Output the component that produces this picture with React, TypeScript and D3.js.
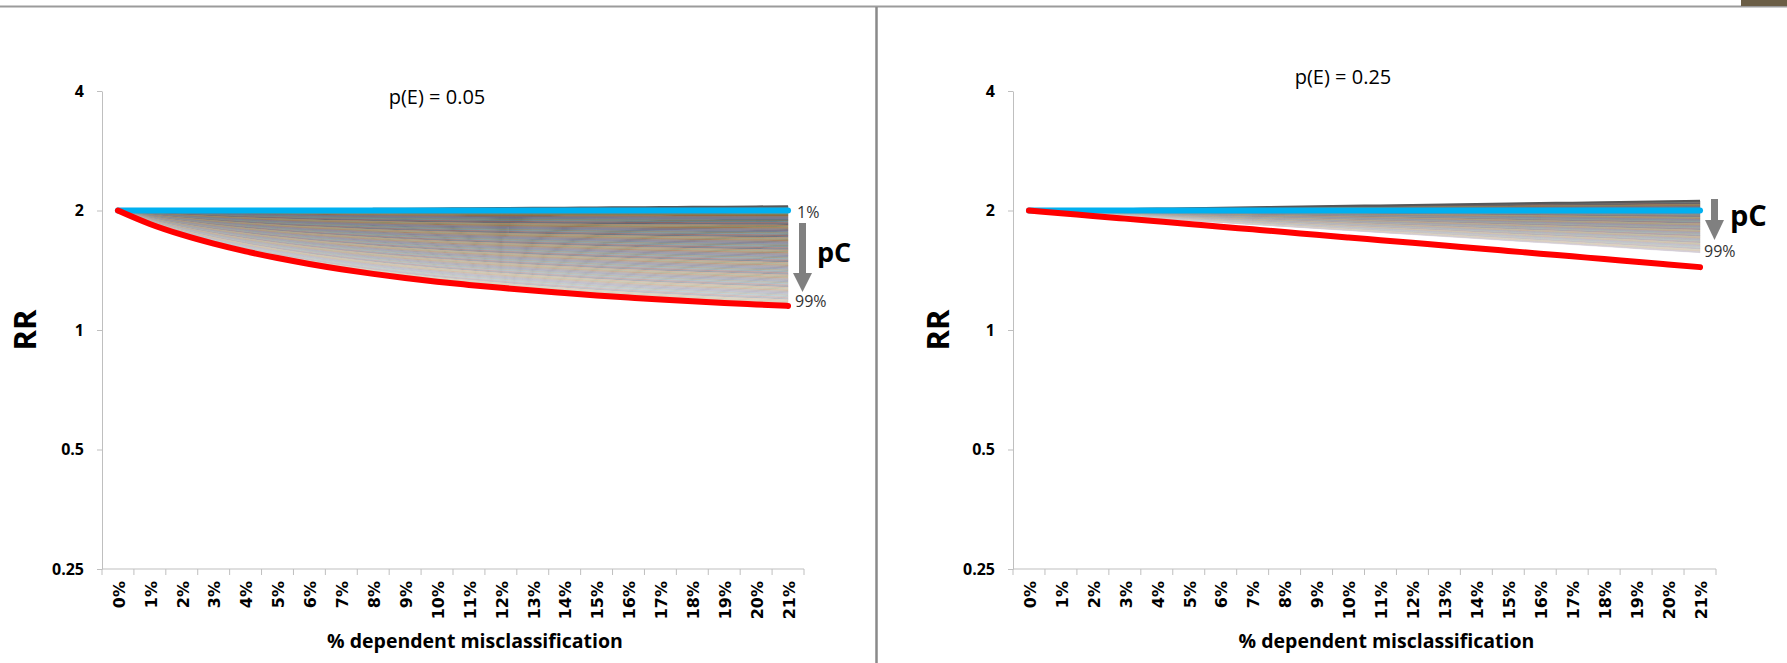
import React, { useEffect, useRef } from 'react';
import * as d3 from 'd3';

// categories on the x axis (% dependent misclassification)
const categories = ['0%', '1%', '2%', '3%', '4%', '5%', '6%', '7%', '8%', '9%', '10%',
  '11%', '12%', '13%', '14%', '15%', '16%', '17%', '18%', '19%', '20%', '21%'];

const yTicks = [0.25, 0.5, 1, 2, 4];

// p(E) = 0.05
const leftBlue = [2, 2, 2, 2, 2, 2, 2, 2, 2, 2, 2, 2, 2, 2, 2, 2, 2, 2, 2, 2, 2, 2];
const leftRed = [2.0, 1.85, 1.738, 1.65, 1.578, 1.518, 1.467, 1.423, 1.385, 1.352, 1.323,
  1.299, 1.277, 1.257, 1.239, 1.222, 1.207, 1.193, 1.181, 1.17, 1.16, 1.15];
const leftFanTop = [2.0, 2.002, 2.005, 2.007, 2.01, 2.012, 2.014, 2.017, 2.019, 2.021, 2.024,
  2.026, 2.029, 2.031, 2.033, 2.036, 2.038, 2.04, 2.043, 2.045, 2.048, 2.05];
const leftFanBottom = leftRed;

// p(E) = 0.25
const rightBlue = [2, 2, 2, 2, 2, 2, 2, 2, 2, 2, 2, 2, 2, 2, 2, 2, 2, 2, 2, 2, 2, 2];
const rightRed = [2.0, 1.969, 1.938, 1.908, 1.879, 1.85, 1.821, 1.793, 1.765, 1.737, 1.71,
  1.684, 1.658, 1.632, 1.607, 1.582, 1.557, 1.533, 1.509, 1.486, 1.463, 1.44];
const rightFanTop = [2.0, 2.005, 2.011, 2.016, 2.022, 2.027, 2.033, 2.038, 2.044, 2.049, 2.055,
  2.06, 2.066, 2.071, 2.077, 2.082, 2.088, 2.093, 2.099, 2.104, 2.11, 2.115];
const rightFanBottom = [2.0, 1.977, 1.954, 1.931, 1.909, 1.887, 1.865, 1.843, 1.822, 1.801, 1.78,
  1.759, 1.739, 1.719, 1.699, 1.679, 1.66, 1.641, 1.622, 1.603, 1.584, 1.566];

// stripe tints used to shade the pC fan
const stripeTints = ['#4f81bd', '#c0504d', '#9bbb59', '#8064a2', '#4bacc6', '#f79646', '#7f7f7f', '#948a54', '#1f497d', '#e46c0a'];

const W = 1787;
const H = 663;
const Y_TOP = 91;
const Y_BOT = 569;

const boldFont = "'Open Sans', 'DejaVu Sans', sans-serif";

const Panel = ({ x0, x1, title, titleX, titleY, rrX, fanTop, fanBottom, blue, red, showOnePct, arrow }) => {
  const ref = useRef(null);

  useEffect(() => {
    const g = d3.select(ref.current);
    g.selectAll('*').remove();

    const x = d3.scaleBand().domain(categories).range([x0, x1]).padding(0);
    const cx = (c) => x(c) + x.bandwidth() / 2;
    const y = d3.scaleLog().base(2).domain([0.25, 4]).range([Y_BOT, Y_TOP]);

    // y axis
    const yAxis = d3.axisLeft(y)
      .tickValues(yTicks)
      .tickSize(5)
      .tickSizeOuter(0)
      .tickPadding(13)
      .tickFormat((d) => String(d));
    const ya = g.append('g').attr('transform', `translate(${x0},0)`).call(yAxis);
    ya.select('.domain').attr('stroke', '#bfbfbf');
    ya.selectAll('.tick line').attr('stroke', '#bfbfbf');
    ya.selectAll('.tick text')
      .attr('font-family', boldFont)
      .attr('font-weight', 700)
      .attr('font-size', 16)
      .attr('fill', '#000');

    // x axis: line, ticks between categories, rotated labels
    g.append('line')
      .attr('x1', x0).attr('x2', x1)
      .attr('y1', Y_BOT).attr('y2', Y_BOT)
      .attr('stroke', '#bfbfbf');
    const bounds = categories.map((c) => x(c)).concat([x1]);
    g.append('g').selectAll('line')
      .data(bounds)
      .join('line')
      .attr('x1', (d) => d).attr('x2', (d) => d)
      .attr('y1', Y_BOT).attr('y2', Y_BOT + 6)
      .attr('stroke', '#bfbfbf');
    g.append('g').selectAll('text')
      .data(categories)
      .join('text')
      .attr('transform', (d) => `translate(${cx(d) + 1},${Y_BOT + 12}) rotate(-90)`)
      .attr('text-anchor', 'end')
      .attr('dy', '0.36em')
      .attr('font-family', "'DejaVu Sans', sans-serif")
      .attr('font-weight', 700)
      .attr('font-size', 16)
      .attr('fill', '#000')
      .text((d) => d);

    // fan of pC lines: shaded in thin bands between the fan edges
    const nBands = 80;
    const ramp = d3.interpolateRgb('#524d49', '#e4e2e2');
    for (let k = 0; k < nBands; k++) {
      const t0 = k / nBands;
      const t1 = (k + 1) / nBands;
      const area = d3.area()
        .x((d, i) => cx(categories[i]))
        .y0((d, i) => y(fanTop[i]) * (1 - t0) + y(fanBottom[i]) * t0)
        .y1((d, i) => y(fanTop[i]) * (1 - t1) + y(fanBottom[i]) * t1)
        .curve(d3.curveMonotoneX);
      const base = ramp(Math.pow(t0, 0.75));
      const col = d3.interpolateRgb(base, stripeTints[(k * 7) % stripeTints.length])(0.4 * (1 - t0 * 0.55));
      g.append('path')
        .datum(fanTop)
        .attr('d', area)
        .attr('fill', col)
        .attr('stroke', col)
        .attr('stroke-width', 0.4);
    }

    const line = d3.line()
      .x((d, i) => cx(categories[i]))
      .y((d) => y(d))
      .curve(d3.curveMonotoneX);

    g.append('path')
      .datum(fanTop)
      .attr('d', line)
      .attr('fill', 'none')
      .attr('stroke', '#575757')
      .attr('stroke-width', 2);

    g.append('path')
      .datum(blue)
      .attr('d', line)
      .attr('fill', 'none')
      .attr('stroke', '#00b0f0')
      .attr('stroke-width', 6)
      .attr('stroke-linecap', 'round');

    g.append('path')
      .datum(red)
      .attr('d', line)
      .attr('fill', 'none')
      .attr('stroke', '#ff0000')
      .attr('stroke-width', 6)
      .attr('stroke-linecap', 'round')
      .attr('stroke-linejoin', 'round');

    // pC arrow and labels
    const ax = arrow.x;
    g.append('rect')
      .attr('x', ax - 3.5).attr('y', arrow.top)
      .attr('width', 7).attr('height', arrow.headTop - arrow.top)
      .attr('fill', '#808080');
    g.append('path')
      .attr('d', `M${ax - 9.5},${arrow.headTop} L${ax + 9.5},${arrow.headTop} L${ax},${arrow.headBot} Z`)
      .attr('fill', '#808080');
    g.append('text')
      .attr('x', arrow.pcX).attr('y', arrow.pcY)
      .attr('font-family', boldFont)
      .attr('font-weight', 700)
      .attr('font-size', arrow.pcSize)
      .attr('fill', '#000')
      .text('pC');
    g.append('text')
      .attr('x', arrow.lowX).attr('y', arrow.lowY)
      .attr('font-family', boldFont)
      .attr('font-size', 16)
      .attr('fill', '#333')
      .text('99%');
    if (showOnePct) {
      g.append('text')
        .attr('x', 797).attr('y', 218)
        .attr('font-family', boldFont)
        .attr('font-size', 16)
        .attr('fill', '#333')
        .text('1%');
    }

    // titles
    g.append('text')
      .attr('x', titleX).attr('y', titleY)
      .attr('text-anchor', 'middle')
      .attr('font-family', boldFont)
      .attr('font-size', 20)
      .attr('fill', '#000')
      .text(title);
    g.append('text')
      .attr('transform', `translate(${rrX},330) rotate(-90)`)
      .attr('text-anchor', 'middle')
      .attr('dy', '0.36em')
      .attr('font-family', boldFont)
      .attr('font-weight', 700)
      .attr('font-size', 31)
      .attr('fill', '#000')
      .text('RR');
    g.append('text')
      .attr('x', (x0 + x1) / 2 + 22).attr('y', 648)
      .attr('text-anchor', 'middle')
      .attr('font-family', boldFont)
      .attr('font-weight', 700)
      .attr('font-size', 19.5)
      .attr('fill', '#000')
      .text('% dependent misclassification');
  }, []);

  return <g ref={ref} />;
};

export default function App() {
  return (
    <svg width={W} height={H} style={{ position: 'absolute', left: 0, top: 0, background: '#fff' }}>
      <rect x={0} y={0} width={W} height={H} fill="#fff" />
      <line x1={0} x2={W} y1={6.5} y2={6.5} stroke="#9b9b9b" strokeWidth={2} />
      <rect x={1741} y={0} width={46} height={6} fill="#6b5e46" />
      <line x1={876.5} x2={876.5} y1={7} y2={H} stroke="#8a8a8a" strokeWidth={2.5} />
      <Panel
        x0={102} x1={804}
        title="p(E) = 0.05" titleX={437} titleY={104} rrX={25}
        fanTop={leftFanTop} fanBottom={leftFanBottom} blue={leftBlue} red={leftRed}
        showOnePct={true}
        arrow={{ x: 802.5, top: 223, headTop: 273, headBot: 292, pcX: 817, pcY: 262, pcSize: 27, lowX: 795, lowY: 307 }}
      />
      <Panel
        x0={1013} x1={1716}
        title="p(E) = 0.25" titleX={1343} titleY={84} rrX={938}
        fanTop={rightFanTop} fanBottom={rightFanBottom} blue={rightBlue} red={rightRed}
        showOnePct={false}
        arrow={{ x: 1714.5, top: 199, headTop: 220, headBot: 240, pcX: 1730, pcY: 226, pcSize: 29, lowX: 1704, lowY: 257 }}
      />
    </svg>
  );
}
